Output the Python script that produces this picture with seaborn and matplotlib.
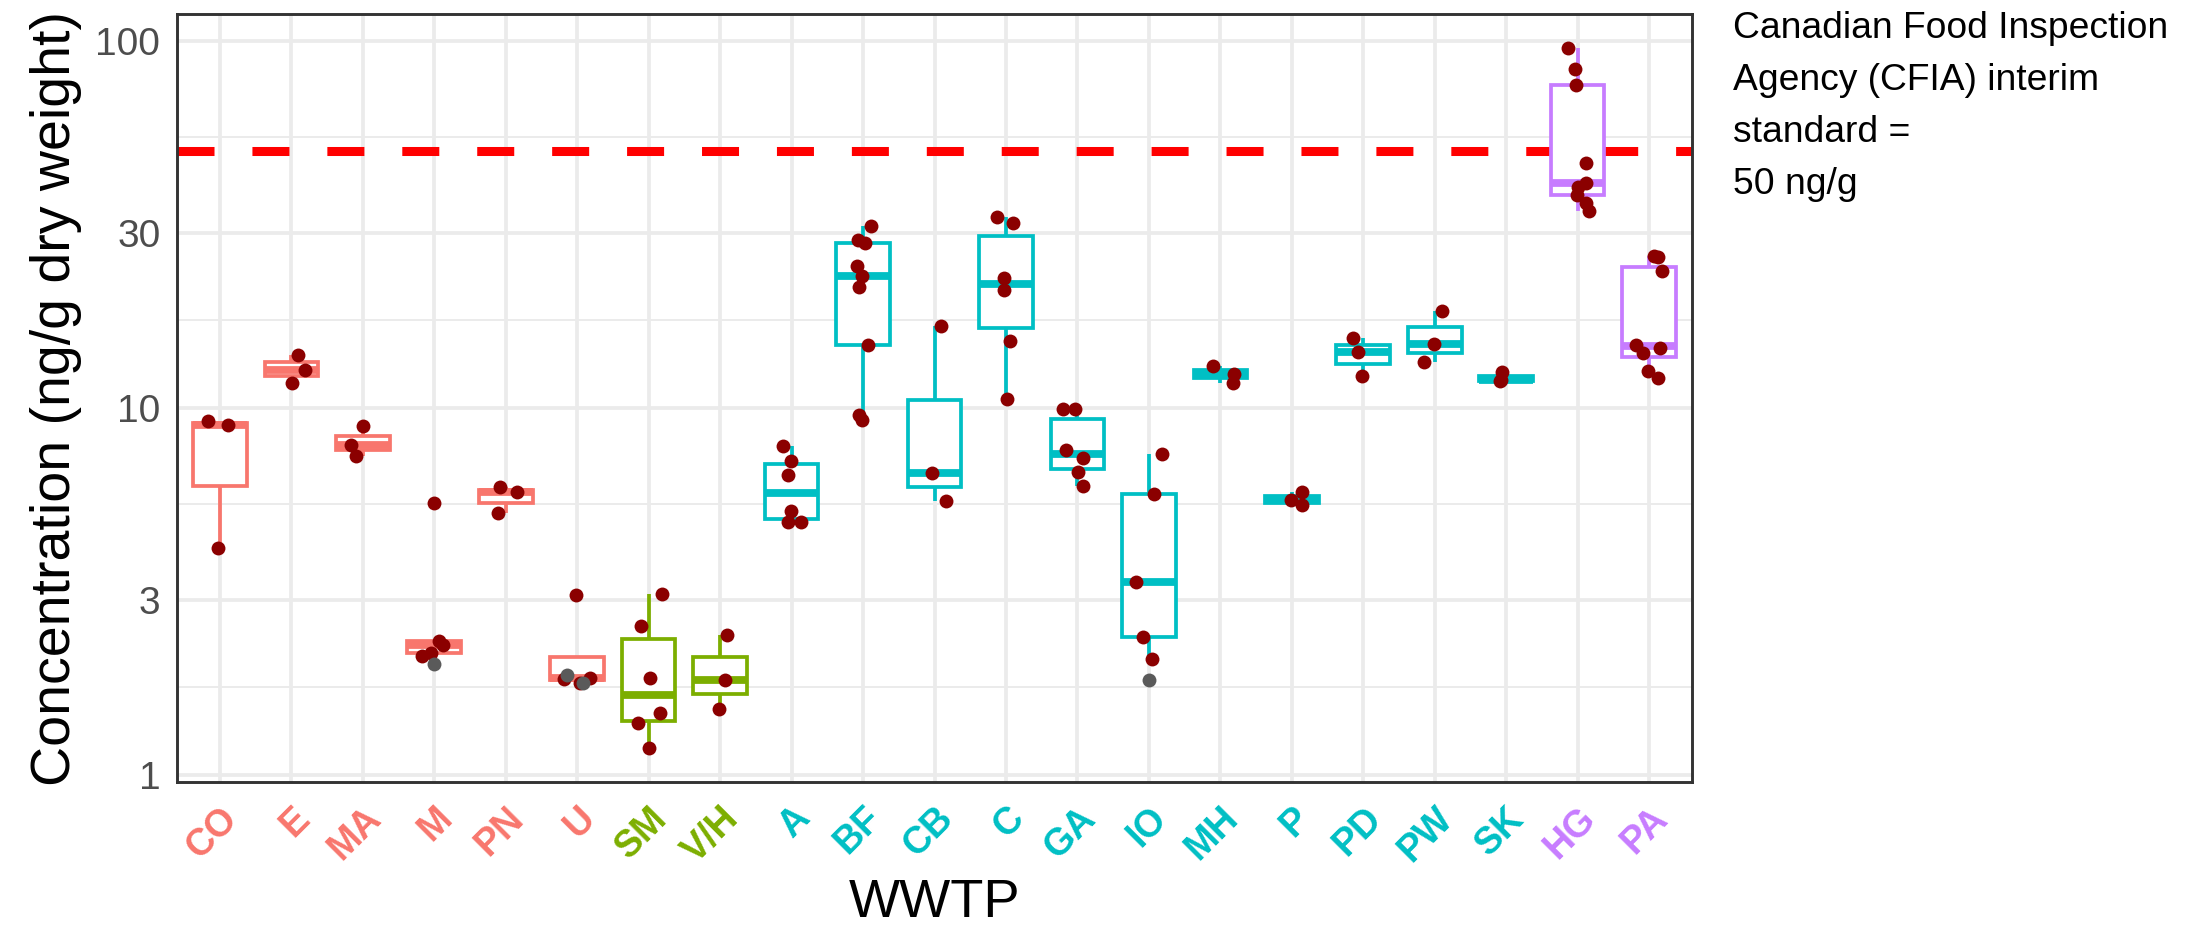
import numpy as np
import pandas as pd
import matplotlib
matplotlib.use("Agg")
import matplotlib.pyplot as plt
from matplotlib.ticker import NullFormatter
import seaborn as sns

# ---------------- data ----------------
sites = ["CO", "E", "MA", "M", "PN", "U", "SM", "V/H", "A", "BF", "CB", "C",
         "GA", "IO", "MH", "P", "PD", "PW", "SK", "HG", "PA"]
site_group = ["G1"] * 6 + ["G2"] * 2 + ["G3"] * 11 + ["G4"] * 2
groups = ["G1", "G2", "G3", "G4"]
group_colors = ["#F8766D", "#7CAE00", "#00BFC4", "#C77CFF"]

# detected concentrations (ng/g dry weight), dark red points
conc_CO = [9.18, 8.99, 4.15]
conc_E = [13.95, 12.69, 11.72]
conc_MA = [8.90, 7.94, 7.38]
conc_M = [5.50, 2.32, 2.26, 2.145, 2.11]
conc_PN = [6.07, 5.90, 5.16]
conc_U = [3.09, 1.834, 1.826, 1.782]
conc_SM = [3.11, 2.54, 1.84, 1.47, 1.38, 1.18]
conc_VH = [2.41, 1.815, 1.513]
conc_A = [7.86, 7.16, 6.57, 5.25, 4.88, 4.88]
conc_BF = [31.4, 28.6, 28.1, 24.3, 22.9, 21.3, 14.85, 9.55, 9.29]
conc_CB = [16.7, 6.64, 5.57]
conc_C = [33.2, 32.0, 22.6, 20.9, 15.2, 10.6]
conc_GA = [9.92, 9.92, 7.69, 7.32, 6.67, 6.11]
conc_IO = [7.48, 5.83, 3.36, 2.38, 2.07]
conc_MH = [13.04, 12.35, 11.72]
conc_P = [5.89, 5.61, 5.42]
conc_PD = [15.55, 14.24, 12.22]
conc_PW = [18.41, 14.94, 13.32]
conc_SK = [12.51, 11.92, 11.80]
conc_HG = [95.9, 83.9, 75.9, 46.6, 41.1, 40.1, 38.0, 36.1, 34.5]
conc_PA = [26.0, 25.85, 23.67, 14.85, 14.6, 14.15, 12.61, 12.09]

# grey points (below detection)
nd_sites = ["M", "U", "U", "IO"]
nd_values = [2.006, 1.777, 1.873, 1.807]

y_ticks = [1, 3, 10, 30, 100]
y_tick_labels = ["1", "3", "10", "30", "100"]
cfia_standard = 50
annotation_lines = ["Canadian Food Inspection", "Agency (CFIA) interim",
                    "standard =", "50 ng/g"]

conc_lists = [conc_CO, conc_E, conc_MA, conc_M, conc_PN, conc_U, conc_SM, conc_VH,
              conc_A, conc_BF, conc_CB, conc_C, conc_GA, conc_IO, conc_MH, conc_P,
              conc_PD, conc_PW, conc_SK, conc_HG, conc_PA]

rows = []
for s, g, vals in zip(sites, site_group, conc_lists):
    for v in vals:
        rows.append((s, g, v))
df = pd.DataFrame(rows, columns=["site", "group", "conc"])
nd = pd.DataFrame({"site": nd_sites, "conc": nd_values})

# ---------------- style ----------------
sns.set_theme(style="whitegrid")
plt.rcParams["font.family"] = ["Liberation Sans", "DejaVu Sans"]
grid_col = "#EBEBEB"
dark = "#333333"

fig = plt.figure(figsize=(21.93, 9.39), dpi=100)
ax = fig.add_axes([177 / 2193, 1 - 782 / 939, (1692 - 177) / 2193, (782 - 14) / 939])
ax.set_facecolor("white")

ax.axhline(cfia_standard, color="#FF0000", lw=6.5, ls=(0, (4.1, 4.2)), zorder=1)

sns.boxplot(data=df, x="site", y="conc", hue="group", order=sites,
            hue_order=groups, palette=group_colors, saturation=1,
            dodge=False, fill=True, width=0.75, showcaps=False,
            showfliers=False, whis=1.5, linewidth=2.7,
            medianprops={"linewidth": 5.6}, log_scale=True,
            legend=False, ax=ax)

# ggplot-like boxes: white fill, coloured outline
for cont in ax.containers:
    boxes = getattr(cont, "boxes", [])
    for i, box in enumerate(boxes):
        col = box.get_facecolor()
        col = (col[0], col[1], col[2], 1.0)
        box.set_facecolor("white")
        box.set_edgecolor(col)
        box.set_zorder(2)
        for w in cont.whiskers[2 * i:2 * i + 2]:
            w.set_color(col)
            w.set_zorder(2)
        cont.medians[i].set_color(col)
        cont.medians[i].set_zorder(2.5)
        cont.medians[i].set_solid_capstyle("butt")

np.random.seed(7)
sns.stripplot(data=df, x="site", y="conc", order=sites, color="#8B0000",
              jitter=0.2, size=10, linewidth=0, ax=ax, zorder=5)
sns.stripplot(data=nd, x="site", y="conc", order=sites, color="#5A5A5A",
              jitter=0.2, size=10, linewidth=0, ax=ax, zorder=6)

# ---------------- axes ----------------
ax.set_yscale("log")
ax.set_xlim(-0.6, len(sites) - 1 + 0.6)
ax.set_ylim(0.955, 118.5)
ax.set_yticks(y_ticks)
ax.set_yticklabels(y_tick_labels)
yt = np.array(y_ticks, dtype=float)
ax.set_yticks(np.sqrt(yt[:-1] * yt[1:]), minor=True)
ax.yaxis.set_minor_formatter(NullFormatter())
ax.set_xticks(range(len(sites)))
ax.set_xticklabels(sites)

ax.set_axisbelow(True)
ax.grid(True, which="major", axis="both", color=grid_col, lw=2.7)
ax.grid(True, which="minor", axis="y", color=grid_col, lw=1.4)
ax.xaxis.grid(True, which="major", color=grid_col, lw=2.7)

for sp in ax.spines.values():
    sp.set_visible(True)
    sp.set_color(dark)
    sp.set_linewidth(2.1)

ax.tick_params(axis="both", which="major", length=10, width=2.3, color=dark,
               direction="out")
ax.tick_params(axis="y", which="minor", length=0)
ax.tick_params(axis="y", labelsize=28, labelcolor="#4D4D4D", pad=2)
ax.tick_params(axis="x", pad=3)

col_map = dict(zip(groups, group_colors))
for lbl, g in zip(ax.get_xticklabels(), site_group):
    lbl.set_color(col_map[g])
    lbl.set_fontsize(27)
    lbl.set_fontweight("bold")
    lbl.set_rotation(45)
    lbl.set_ha("right")
    lbl.set_va("top")
    lbl.set_rotation_mode("anchor")

ax.set_xlabel("WWTP", fontsize=39, color="black", labelpad=6)
ax.set_ylabel("Concentration (ng/g dry weight)", fontsize=40, color="black",
              labelpad=10)

for i, line in enumerate(annotation_lines):
    fig.text(1733 / 2193, 1 - (38 + 52 * i) / 939, line, fontsize=26.8,
             color="black", ha="left", va="baseline")

fig.savefig("out.png", dpi=100, facecolor="white")
